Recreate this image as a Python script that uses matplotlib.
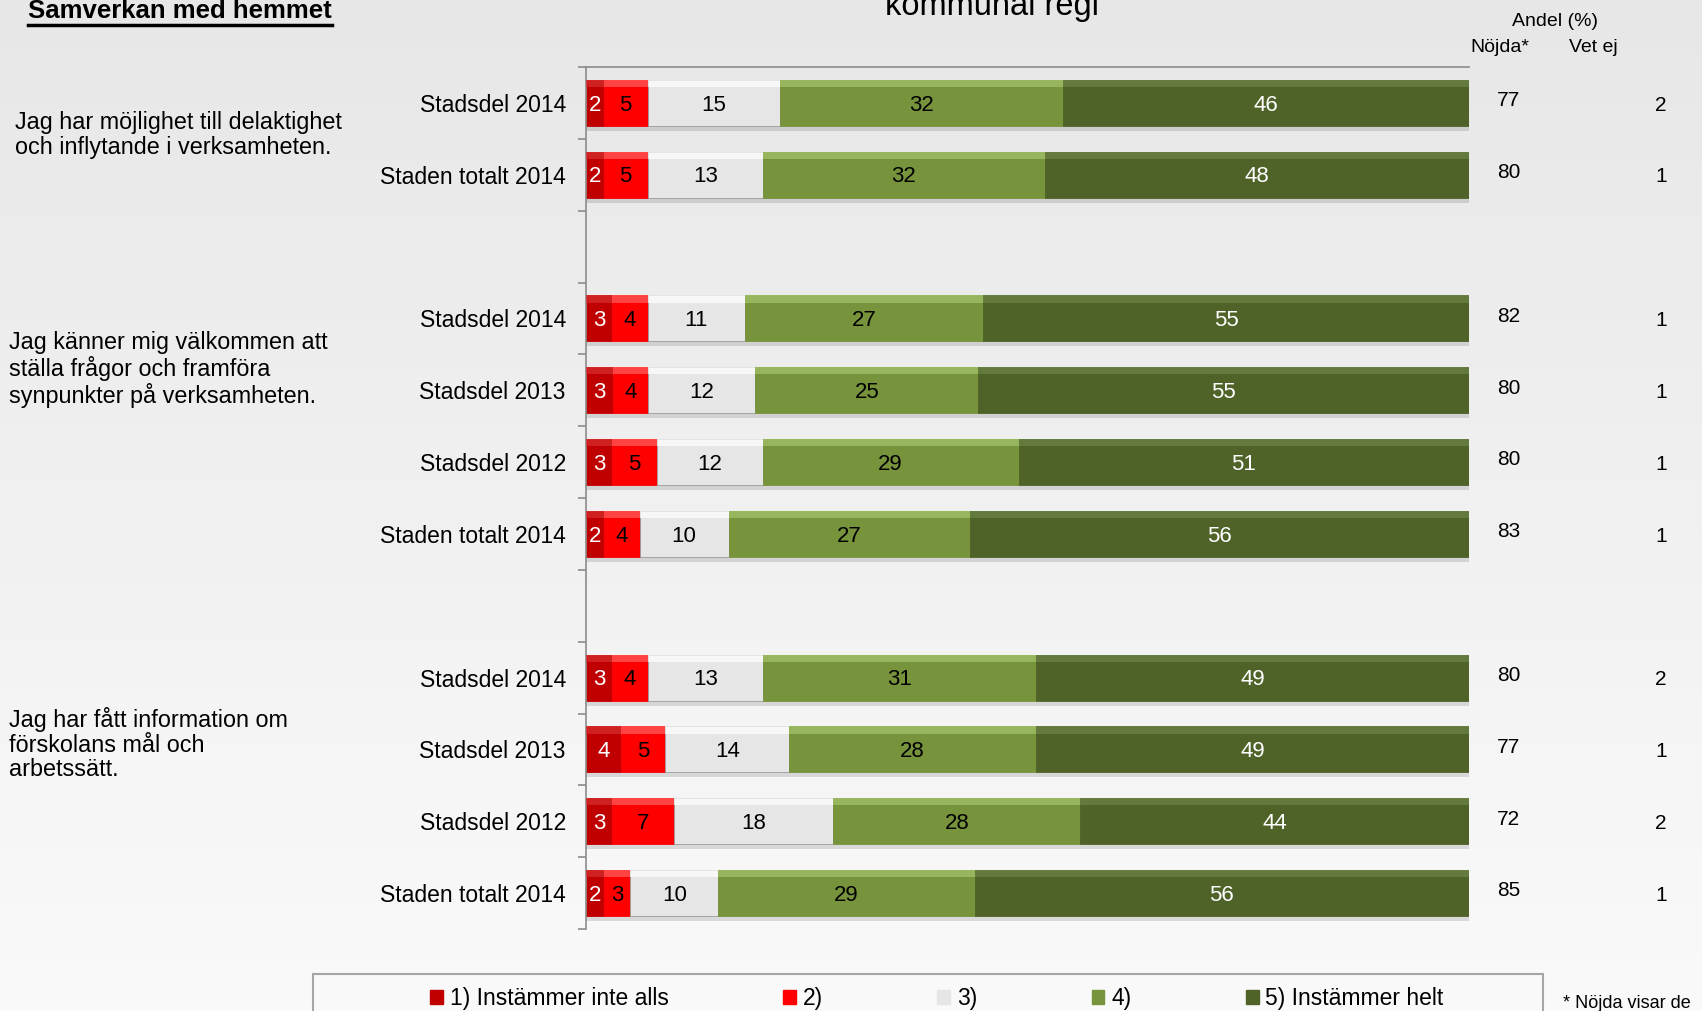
import numpy as np
import matplotlib
matplotlib.use("Agg")
import matplotlib.pyplot as plt
from matplotlib.patches import Patch, Rectangle
from matplotlib.lines import Line2D

plt.rcParams['font.family'] = ['Liberation Sans', 'DejaVu Sans']

# --- data ---
questions = [
    "Jag har möjlighet till delaktighet\noch inflytande i verksamheten.",
    "Jag känner mig välkommen att\nställa frågor och framföra\nsynpunkter på verksamheten.",
    "Jag har fått information om\nförskolans mål och\narbetssätt.",
]
group_labels = [
    ["Stadsdel 2014", "Staden totalt 2014"],
    ["Stadsdel 2014", "Stadsdel 2013", "Stadsdel 2012", "Staden totalt 2014"],
    ["Stadsdel 2014", "Stadsdel 2013", "Stadsdel 2012", "Staden totalt 2014"],
]
# answer shares 1)..5) per row
group_values = [
    [[2, 5, 15, 32, 46], [2, 5, 13, 32, 48]],
    [[3, 4, 11, 27, 55], [3, 4, 12, 25, 55], [3, 5, 12, 29, 51], [2, 4, 10, 27, 56]],
    [[3, 4, 13, 31, 49], [4, 5, 14, 28, 49], [3, 7, 18, 28, 44], [2, 3, 10, 29, 56]],
]
group_nojda = [[77, 80], [82, 80, 80, 83], [80, 77, 72, 85]]
group_vetej = [[2, 1], [1, 1, 1, 1], [2, 1, 2, 1]]

legend_labels = ["1) Instämmer inte alls", "2)", "3)", "4)", "5) Instämmer helt"]
colors = ["#C00000", "#FF0000", "#E6E6E6", "#77933C", "#4F6228"]
highlights = ["#D83030", "#FF6060", "#FFFFFF", "#A6C46A", "#6E8546"]
text_colors = ["white", "black", "black", "black", "white"]

W, H = 1702, 1011
fig = plt.figure(figsize=(W / 100, H / 100), dpi=100)

# background gradient
bg = fig.add_axes([0, 0, 1, 1], zorder=-10)
grad = np.linspace(0, 1, 256).reshape(-1, 1)
bg.imshow(grad, aspect='auto', cmap=matplotlib.colors.LinearSegmentedColormap.from_list(
    "bg", ["#E7E7E7", "#FAFAFA"]), extent=[0, 1, 0, 1], origin='upper')
bg.axis('off')

def fx(px):
    return px / W

def fy(py):
    return 1 - py / H

ax = fig.add_axes([fx(586), fy(929), fx(1469) - fx(586), fy(67) - fy(929)])
ax.patch.set_alpha(0)

# row positions: groups separated by one empty slot
rows, labels, vals, nojda, vetej = [], [], [], [], []
pos = 0
for gl, gv, gn, ge in zip(group_labels, group_values, group_nojda, group_vetej):
    for l, v, n, e in zip(gl, gv, gn, ge):
        rows.append(pos)
        labels.append(l)
        vals.append(v)
        nojda.append(n)
        vetej.append(e)
        pos += 1
    pos += 1
nslots = pos - 1

vals = np.array(vals, dtype=float)
widths = vals / vals.sum(axis=1, keepdims=True) * 100
lefts = np.cumsum(widths, axis=1) - widths
rows = np.array(rows)

bh = 0.64
for k in range(5):
    # shadow
    ax.barh(rows + 0.07, widths[:, k], left=lefts[:, k], height=bh,
            color="#000000", alpha=0.12, linewidth=0, zorder=1)
    ax.barh(rows, widths[:, k], left=lefts[:, k], height=bh,
            color=colors[k], edgecolor="#9a9a9a" if k == 2 else colors[k],
            linewidth=0.6, zorder=2)
    # top bevel highlight
    ax.barh(rows - bh / 2 + 0.05, widths[:, k], left=lefts[:, k], height=0.1,
            color=highlights[k], alpha=0.7, linewidth=0, zorder=3)
    for r, l, w, v in zip(rows, lefts[:, k], widths[:, k], vals[:, k]):
        ax.text(l + w / 2, r + 0.03, f"{int(v)}", ha='center', va='center',
                fontsize=16, color=text_colors[k], zorder=4)

for r, n, e in zip(rows, nojda, vetej):
    ax.text(104.5, r - 0.03, str(n), ha='center', va='center', fontsize=15, clip_on=False)
    ax.text(121.75, r + 0.03, str(e), ha='center', va='center', fontsize=15, clip_on=False)

ax.set_xlim(0, 100)
ax.set_ylim(nslots - 0.5, -0.5)
ax.set_xticks([])
ax.set_yticks(rows, labels, fontsize=16.5)
ax.tick_params(axis='y', which='major', length=0, pad=14.5)
ax.set_yticks(np.arange(-0.5, nslots, 1), minor=True)
ax.tick_params(axis='y', which='minor', length=6, color="#8c8c8c", width=1.2)
for s in ['right', 'bottom']:
    ax.spines[s].set_visible(False)
for s in ['left', 'top']:
    ax.spines[s].set_color("#8c8c8c")
    ax.spines[s].set_linewidth(1.2)

# question texts
fig.text(fx(15), fy(135), questions[0], fontsize=16.8, va='center', ha='left', linespacing=1.1)
fig.text(fx(9), fy(369), questions[1], fontsize=16.8, va='center', ha='left', linespacing=1.1)
fig.text(fx(9), fy(744), questions[2], fontsize=16.8, va='center', ha='left', linespacing=1.1)

# titles
t = fig.text(fx(28), fy(18), "Samverkan med hemmet", fontsize=18.5, fontweight='bold',
             va='baseline', ha='left')
fig.text(fx(992), fy(15), "kommunal regi", fontsize=23.5, va='baseline', ha='center')
fig.canvas.draw()
bb = t.get_window_extent()
fig.add_artist(Line2D([bb.x0 / W, bb.x1 / W], [fy(25), fy(25)], color='black', lw=2.5,
                      transform=fig.transFigure))

# column headers
fig.text(fx(1555), fy(26), "Andel (%)", fontsize=14, va='baseline', ha='center')
fig.text(fx(1500), fy(52), "Nöjda*", fontsize=14, va='baseline', ha='center')
fig.text(fx(1593), fy(52), "Vet ej", fontsize=14, va='baseline', ha='center')

# legend
fig.add_artist(Rectangle((fx(313), -0.05), fx(1543) - fx(313), fy(974) + 0.05,
                         transform=fig.transFigure, facecolor='none',
                         edgecolor="#a6a6a6", linewidth=1.5))
handles = [Patch(facecolor=c, edgecolor=c) for c in colors]
fig.legend(handles, legend_labels, loc='center', bbox_to_anchor=(fx(937), fy(999)),
           ncol=5, frameon=False, fontsize=16.5, handlelength=0.55, handleheight=0.55,
           handletextpad=0.3, columnspacing=5.0)

fig.text(fx(1563), fy(1004), "* Nöjda visar de", fontsize=13, va='center', ha='left')

fig.savefig("out.png", dpi=100)
